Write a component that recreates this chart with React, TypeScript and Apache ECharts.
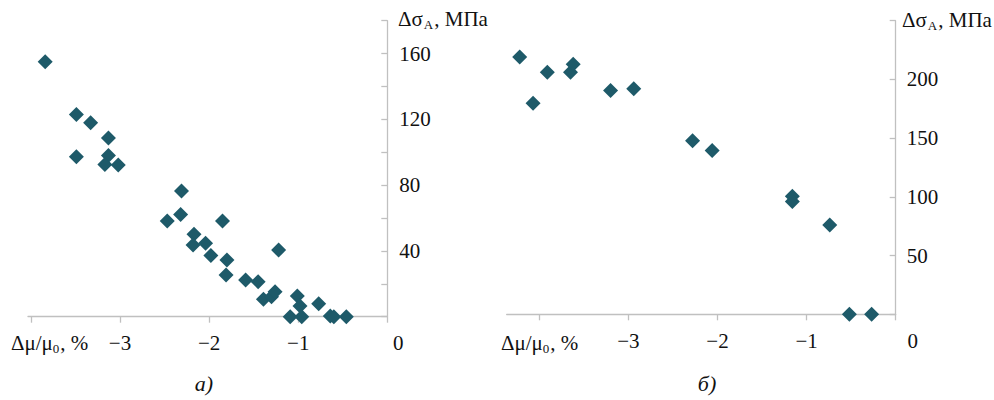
import React, { useEffect, useRef } from "react";
import * as echarts from "echarts";

// Panel а) data: Δμ/μ0 (%) vs Δσ_A (MPa)
const xA = [-3.84, -3.49, -3.33, -3.13, -3.49, -3.13, -3.17, -3.02, -2.31, -2.32, -2.47, -1.85, -2.17, -2.18, -2.04, -1.98, -1.8, -1.81, -1.22, -1.59, -1.45, -1.39, -1.3, -1.26, -1.01, -0.98, -0.77, -1.09, -0.96, -0.64, -0.6, -0.46];
const yA = [155, 123, 118, 108.6, 97.3, 98, 92.6, 92.2, 76.4, 62.2, 58.2, 58.2, 50.2, 43.6, 44.6, 37.2, 34.5, 25.3, 40.5, 22.3, 21.3, 10.6, 12.2, 15.2, 12.6, 6.5, 7.8, 0, 0, 0.5, 0, 0];

// Panel б) data
const xB = [-4.22, -4.07, -3.91, -3.65, -3.62, -3.2, -2.94, -2.28, -2.06, -1.16, -1.16, -0.74, -0.52, -0.27];
const yB = [219, 179.8, 206, 206, 213, 190.6, 192, 147.7, 139.4, 100.5, 96, 76.1, 0, 0];

const xTicks = [-4, -3, -2, -1, 0];
const xLabelValues = [-3, -2, -1, 0];
const yTicksA = [0, 20, 40, 60, 80, 100, 120, 140, 160, 180];
const yLabelsA = [40, 80, 120, 160];
const yTicksB = [0, 50, 100, 150, 200, 250];
const yLabelsB = [50, 100, 150, 200];

const FONT = "Liberation Serif";
const FS = 21;
const AXIS_COLOR = "#c0c0c0";
const MARK_COLOR = "#1e5a69";

export default function App() {
  const ref = useRef<HTMLDivElement>(null);
  useEffect(() => {
    if (!ref.current) return;
    const chart = echarts.init(ref.current, null, { renderer: "svg" });

    const xAxisCommon = (gridIndex: number, min: number, zeroPad: number) => ({
      type: "value",
      gridIndex,
      min,
      max: 0,
      splitLine: { show: false },
      axisLine: { show: true, onZero: false, lineStyle: { color: AXIS_COLOR, width: 1.3 } },
      axisTick: { show: true, customValues: xTicks, length: 6, lineStyle: { color: AXIS_COLOR, width: 1.3 } },
      axisLabel: {
        customValues: xLabelValues,
        margin: 16,
        color: "#111",
        fontFamily: FONT,
        fontSize: FS,
        formatter: (v: number) => (v === 0 ? "{z|0}" : String(v).replace("-", "\u2212")),
        rich: { z: { fontFamily: FONT, fontSize: FS, color: "#111", padding: [0, 0, 0, zeroPad] } },
      },
    });

    const yAxisCommon = (gridIndex: number, max: number, ticks: number[], labels: number[], margin: number) => ({
      type: "value",
      gridIndex,
      position: "right",
      min: 0,
      max,
      splitLine: { show: false },
      axisLine: { show: true, onZero: false, lineStyle: { color: AXIS_COLOR, width: 1.3 } },
      axisTick: { show: true, inside: true, customValues: ticks, length: 6, lineStyle: { color: AXIS_COLOR, width: 1.3 } },
      axisLabel: {
        customValues: labels,
        margin,
        color: "#111",
        fontFamily: FONT,
        fontSize: FS,
      },
    });

    const yName = (x: number, y: number) => ({
      type: "text",
      x,
      y,
      style: {
        text: "{n|\u0394\u03c3}{s|A}{n|, \u041c\u041f\u0430}",
        verticalAlign: "middle",
        rich: {
          n: { fontFamily: FONT, fontSize: FS, fill: "#111" },
          s: { fontFamily: FONT, fontSize: 13, fill: "#111", padding: [11, 1, 0, 1] },
        },
      },
    });
    const xName = (x: number, y: number) => ({
      type: "text",
      x,
      y,
      style: {
        text: "{n|\u0394\u03bc/\u03bc}{s|0}{n|, %}",
        verticalAlign: "middle",
        rich: {
          n: { fontFamily: FONT, fontSize: FS, fill: "#111" },
          s: { fontFamily: FONT, fontSize: 13, fill: "#111", padding: [11, 1, 0, 0] },
        },
      },
    });

    chart.setOption({
      animation: false,
      backgroundColor: "#ffffff",
      textStyle: { fontFamily: FONT },
      grid: [
        { left: 28, top: 20.7, width: 359.3, height: 296 },
        { left: 506.7, top: 20.7, width: 389, height: 293.6 },
      ],
      xAxis: [xAxisCommon(0, -4.033, 22), xAxisCommon(1, -4.366, 34)],
      yAxis: [
        yAxisCommon(0, 180, yTicksA, yLabelsA, 12),
        yAxisCommon(1, 250, yTicksB, yLabelsB, 11),
      ],
      series: [
        {
          type: "scatter",
          xAxisIndex: 0,
          yAxisIndex: 0,
          symbol: "diamond",
          symbolSize: 15,
          clip: false,
          itemStyle: { color: MARK_COLOR, opacity: 1 },
          data: xA.map((x, i) => [x, yA[i]]),
        },
        {
          type: "scatter",
          xAxisIndex: 1,
          yAxisIndex: 1,
          symbol: "diamond",
          symbolSize: 15,
          clip: false,
          itemStyle: { color: MARK_COLOR, opacity: 1 },
          data: xB.map((x, i) => [x, yB[i]]),
        },
      ],
      graphic: [
        yName(398, 19),
        yName(902, 20),
        xName(11, 343),
        xName(501, 343),
        {
          type: "text",
          x: 204,
          y: 383,
          style: { text: "\u0430)", fontFamily: FONT, fontSize: 22, fontStyle: "italic", fill: "#111", align: "center", verticalAlign: "middle" },
        },
        {
          type: "text",
          x: 707,
          y: 383,
          style: { text: "\u0431)", fontFamily: FONT, fontSize: 22, fontStyle: "italic", fill: "#111", align: "center", verticalAlign: "middle" },
        },
      ],
    });
    return () => chart.dispose();
  }, []);

  return (
    <div
      ref={ref}
      style={{ position: "absolute", left: 0, top: 0, width: 994, height: 400 }}
    />
  );
}
